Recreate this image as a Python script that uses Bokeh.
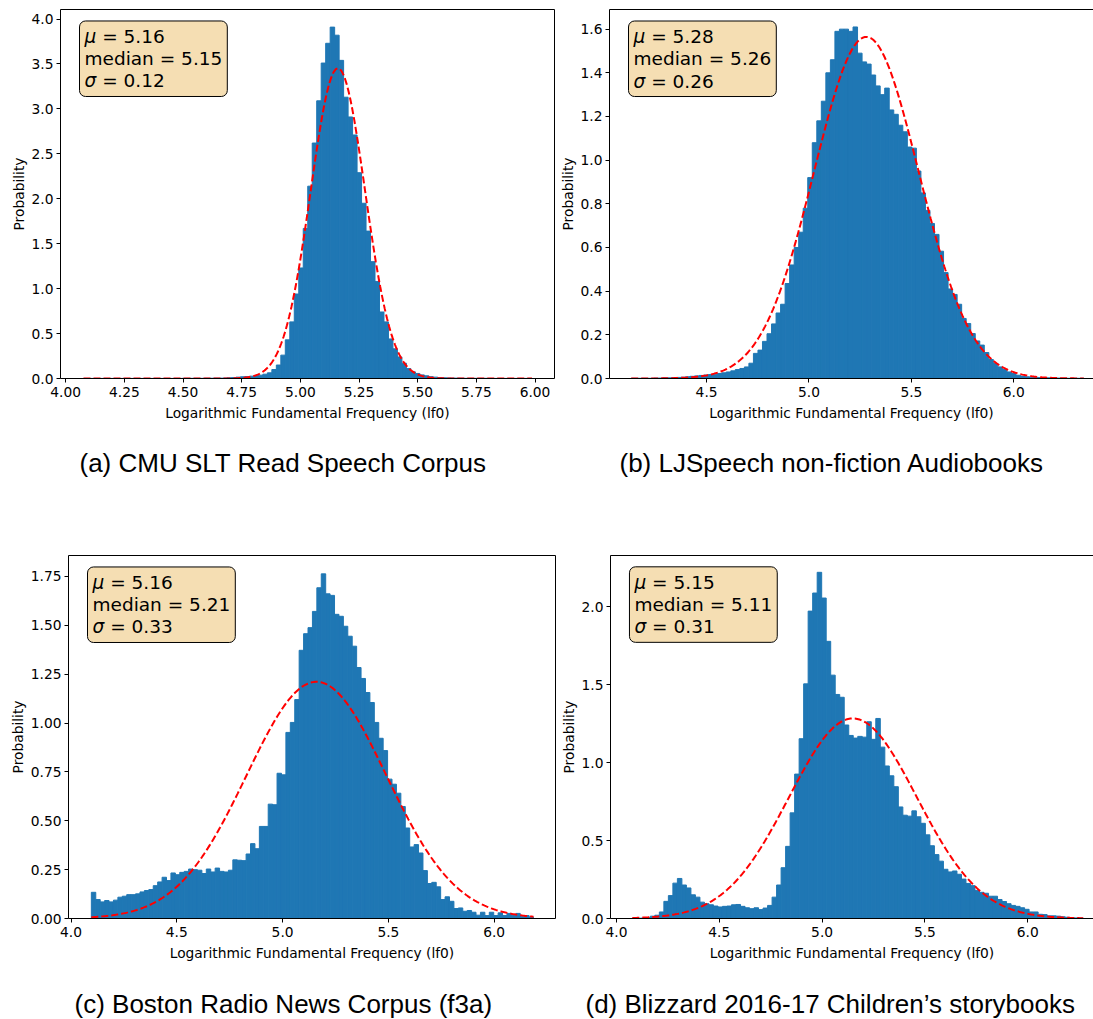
import numpy as np
from bokeh.plotting import figure
from bokeh.models import Range1d, FixedTicker, LinearAxis, Label, NumeralTickFormatter
from bokeh.layouts import column, row
from bokeh.embed import file_html
from bokeh.resources import INLINE

# ---------------- data ----------------
# (a) CMU SLT: 100 bins between a_lo and a_hi
a_lo, a_hi = 4.076, 5.987
a_vals = [0.001, 0.001, 0.001, 0.001, 0.001, 0.001, 0.001, 0.001, 0.001, 0.001,
          0.001, 0.001, 0.001, 0.001, 0.001, 0.001, 0.001, 0.001, 0.001, 0.001,
          0.001, 0.001, 0.002, 0.002, 0.002, 0.002, 0.002, 0.003, 0.003, 0.004,
          0.004, 0.005, 0.008, 0.010, 0.015, 0.019, 0.022, 0.026, 0.030, 0.037,
          0.048, 0.063, 0.100, 0.150, 0.260, 0.430, 0.630, 0.940, 1.230, 1.670,
          2.140, 2.620, 3.090, 3.510, 3.730, 3.910, 3.820, 3.540, 3.130, 2.910,
          2.710, 2.290, 1.950, 1.640, 1.300, 1.080, 0.740, 0.630, 0.440, 0.330,
          0.240, 0.170, 0.110, 0.074, 0.056, 0.040, 0.030, 0.020, 0.015, 0.010,
          0.008, 0.006, 0.005, 0.004, 0.003, 0.002, 0.002, 0.002, 0.002, 0.002,
          0.001, 0.001, 0.001, 0.001, 0.001, 0.001, 0.001, 0.001, 0.001, 0.001]
a_mu, a_sigma = 5.16, 0.1156
a_stats = ["5.16", "5.15", "0.12"]

# (b) LJSpeech
b_lo, b_hi = 4.132, 6.342
b_vals = [0.001, 0.001, 0.001, 0.001, 0.001, 0.002, 0.002, 0.003, 0.003, 0.004,
          0.005, 0.006, 0.008, 0.010, 0.012, 0.014, 0.016, 0.018, 0.020, 0.023,
          0.026, 0.030, 0.035, 0.041, 0.046, 0.053, 0.070, 0.115, 0.130, 0.170,
          0.205, 0.250, 0.300, 0.340, 0.435, 0.520, 0.600, 0.670, 0.780, 0.920,
          1.080, 1.180, 1.270, 1.400, 1.460, 1.590, 1.600, 1.600, 1.590, 1.610,
          1.490, 1.450, 1.440, 1.390, 1.340, 1.300, 1.330, 1.230, 1.210, 1.160,
          1.130, 1.060, 1.055, 0.950, 0.850, 0.770, 0.710, 0.660, 0.583, 0.485,
          0.410, 0.385, 0.340, 0.275, 0.252, 0.206, 0.172, 0.153, 0.119, 0.087,
          0.069, 0.053, 0.041, 0.030, 0.023, 0.015, 0.011, 0.008, 0.006, 0.005,
          0.004, 0.003, 0.003, 0.002, 0.002, 0.001, 0.001, 0.001, 0.001, 0.001]
b_mu, b_sigma = 5.28, 0.255
b_stats = ["5.28", "5.26", "0.26"]

# (c) Boston Radio News
c_lo, c_hi = 4.096, 6.186
c_vals = [0.134, 0.097, 0.085, 0.092, 0.085, 0.094, 0.109, 0.114, 0.122, 0.122,
          0.126, 0.136, 0.143, 0.148, 0.168, 0.187, 0.211, 0.194, 0.233, 0.224,
          0.236, 0.241, 0.253, 0.250, 0.247, 0.230, 0.253, 0.238, 0.258, 0.241,
          0.238, 0.247, 0.300, 0.298, 0.296, 0.330, 0.383, 0.357, 0.471, 0.471,
          0.585, 0.582, 0.743, 0.735, 0.952, 1.003, 1.120, 1.372, 1.457, 1.488,
          1.571, 1.692, 1.763, 1.661, 1.653, 1.556, 1.546, 1.495, 1.444, 1.393,
          1.284, 1.228, 1.156, 1.105, 1.003, 0.922, 0.859, 0.713, 0.687, 0.641,
          0.573, 0.463, 0.366, 0.378, 0.335, 0.245, 0.179, 0.185, 0.162, 0.097,
          0.111, 0.088, 0.051, 0.054, 0.037, 0.041, 0.032, 0.017, 0.032, 0.015,
          0.032, 0.015, 0.029, 0.015, 0.026, 0.015, 0.026, 0.012, 0.015, 0.008]
c_mu, c_sigma = 5.16, 0.3295
c_stats = ["5.16", "5.21", "0.33"]

# (d) Blizzard 2016-17
d_lo, d_hi = 4.077, 6.270
d_vals = [0.001, 0.002, 0.003, 0.005, 0.015, 0.021, 0.042, 0.110, 0.147, 0.227,
          0.257, 0.215, 0.196, 0.152, 0.137, 0.105, 0.095, 0.088, 0.080, 0.074,
          0.078, 0.080, 0.088, 0.090, 0.078, 0.069, 0.063, 0.069, 0.057, 0.067,
          0.084, 0.137, 0.215, 0.326, 0.463, 0.678, 0.927, 1.154, 1.506, 1.973,
          2.089, 2.222, 2.057, 1.779, 1.562, 1.438, 1.420, 1.242, 1.175, 1.158,
          1.169, 1.164, 1.263, 1.150, 1.284, 1.100, 0.979, 0.916, 0.846, 0.716,
          0.663, 0.657, 0.691, 0.653, 0.611, 0.537, 0.467, 0.410, 0.368, 0.316,
          0.299, 0.305, 0.284, 0.253, 0.225, 0.211, 0.179, 0.168, 0.162, 0.143,
          0.143, 0.122, 0.109, 0.095, 0.084, 0.078, 0.069, 0.059, 0.042, 0.042,
          0.027, 0.025, 0.017, 0.017, 0.015, 0.011, 0.008, 0.006, 0.004, 0.003]
d_mu, d_sigma = 5.15, 0.3107
d_stats = ["5.15", "5.11", "0.31"]

captions = ["(a) CMU SLT Read Speech Corpus",
            "(b) LJSpeech non-fiction Audiobooks",
            "(c) Boston Radio News Corpus (f3a)",
            "(d) Blizzard 2016-17 Children\u2019s storybooks"]

a_xticks = [4.00, 4.25, 4.50, 4.75, 5.00, 5.25, 5.50, 5.75, 6.00]
b_xticks = [4.5, 5.0, 5.5, 6.0]
c_xticks = [4.0, 4.5, 5.0, 5.5, 6.0]
d_xticks = [4.0, 4.5, 5.0, 5.5, 6.0]
a_yticks = [0.0, 0.5, 1.0, 1.5, 2.0, 2.5, 3.0, 3.5, 4.0]
b_yticks = [0.0, 0.2, 0.4, 0.6, 0.8, 1.0, 1.2, 1.4, 1.6]
c_yticks = [0.0, 0.25, 0.5, 0.75, 1.0, 1.25, 1.5, 1.75]
d_yticks = [0.0, 0.5, 1.0, 1.5, 2.0]

BLUE = "#1f77b4"
TICK_FONT = "DejaVu Sans"
FS = "13.8px"


def norm_pdf(x, mu, s):
    return np.exp(-0.5 * ((x - mu) / s) ** 2) / (s * np.sqrt(2 * np.pi))


def spine(p, side):
    ax = LinearAxis(ticker=FixedTicker(ticks=[]), major_tick_out=0, major_tick_in=0,
                    minor_tick_out=0, minor_tick_in=0, major_label_standoff=0,
                    axis_line_color="black", axis_line_width=1)
    p.add_layout(ax, side)


def panel(lo, hi, vals, mu, sigma, stats, xticks, xfmt, yticks, yfmt,
          W, H, bl, br, bt, bb, xr, yr, right_spine):
    n = len(vals)
    edges = np.linspace(lo, hi, n + 1)
    p = figure(width=W, height=H, x_range=Range1d(*xr), y_range=Range1d(*yr),
               output_backend="svg", toolbar_location=None, title_location=None,
               min_border_left=bl, min_border_right=br, min_border_top=bt,
               min_border_bottom=bb, background_fill_color="white",
               border_fill_color="white")
    p.outline_line_color = None
    p.grid.visible = False

    p.quad(left=edges[:-1], right=edges[1:], bottom=0, top=vals,
           fill_color=BLUE, line_color=BLUE, line_width=1)
    xs = np.linspace(lo, hi, 400)
    p.line(xs, norm_pdf(xs, mu, sigma), line_color="red", line_width=2,
           line_dash="7 3")

    xa = p.xaxis[0]
    xa.ticker = FixedTicker(ticks=xticks)
    xa.formatter = NumeralTickFormatter(format=xfmt)
    ya = p.yaxis[0]
    ya.ticker = FixedTicker(ticks=yticks)
    ya.formatter = NumeralTickFormatter(format=yfmt)
    for ax in (xa, ya):
        ax.axis_line_color = "black"
        ax.axis_line_width = 1
        ax.major_tick_line_color = "black"
        ax.major_tick_in = 0
        ax.major_tick_out = 4
        ax.minor_tick_line_color = None
        ax.major_label_text_font = TICK_FONT
        ax.major_label_text_font_size = FS
        ax.major_label_text_color = "black"
        ax.axis_label_text_font = TICK_FONT
        ax.axis_label_text_font_size = FS
        ax.axis_label_text_font_style = "normal"
        ax.axis_label_text_color = "black"
        ax.major_label_standoff = 3
    xa.major_label_standoff = 4
    xa.axis_label = "Logarithmic Fundamental Frequency (lf0)"
    xa.axis_label_standoff = 5
    ya.axis_label = "Probability"
    ya.axis_label_standoff = 2

    spine(p, "above")
    if right_spine:
        spine(p, "right")

    fw = W - bl - br
    fh = H - bt - bb
    dx = (xr[1] - xr[0]) / fw
    dy = (yr[1] - yr[0]) / fh

    # stats box near the top-left corner of the axes (greek letters drawn italic on top)
    bx = xr[0] + 19 * dx
    by = yr[1] - 11.5 * dy
    common = dict(x=bx, y=by, x_units="data", y_units="data", text_font="DejaVu Sans",
                  text_font_size="18.5px", text_color="black", text_align="left",
                  text_baseline="top", text_line_height=1.06, padding=5)
    body = "\u2007 = %s\nmedian = %s\n\u2007 = %s" % tuple(stats)
    p.add_layout(Label(text=body, background_fill_color="#F5DEB3",
                       background_fill_alpha=1.0, border_line_color="black",
                       border_line_width=1, border_radius=6, **common))
    p.add_layout(Label(text="\u03bc\n \n\u03c3", text_font_style="italic", **common))
    return p


def caption_strip(text, W, H, left_px, center_from_top):
    s = figure(width=W, height=H, x_range=Range1d(0, W), y_range=Range1d(0, H),
               output_backend="svg", toolbar_location=None, title_location=None,
               x_axis_location=None, y_axis_location=None, min_border=0,
               background_fill_color="white", border_fill_color="white")
    s.outline_line_color = None
    s.grid.visible = False
    s.add_layout(Label(x=left_px, y=H - center_from_top, x_units="data", y_units="data",
                       text=text, text_font="Liberation Sans", text_font_size="26px",
                       text_color="black", text_align="left", text_baseline="middle"))
    return s


pa = panel(a_lo, a_hi, a_vals, a_mu, a_sigma, a_stats, a_xticks, "0.00",
           a_yticks, "0.0", 555, 430, 60, 1, 8, 52, (3.978, 6.083), (0.0, 4.106), True)
pb = panel(b_lo, b_hi, b_vals, b_mu, b_sigma, b_stats, b_xticks, "0.0",
           b_yticks, "0.0", 538, 430, 54, 0, 9, 52, (4.026, 6.389), (0.0, 1.69), False)
pc = panel(c_lo, c_hi, c_vals, c_mu, c_sigma, c_stats, c_xticks, "0.0",
           c_yticks, "0.00", 557, 470, 68, 2, 55, 51, (3.988, 6.290), (0.0, 1.857), True)
pd_ = panel(d_lo, d_hi, d_vals, d_mu, d_sigma, d_stats, d_xticks, "0.0",
            d_yticks, "0.0", 536, 470, 52, 0, 49, 52, (3.971, 6.320), (0.0, 2.33), False)

ca = caption_strip(captions[0], 555, 70, 79, 32)
cb = caption_strip(captions[1], 538, 70, 64, 32)
cc = caption_strip(captions[2], 557, 49, 74, 33)
cd = caption_strip(captions[3], 536, 49, 28, 33)

layout = column(row(pa, pb), row(ca, cb), row(pc, pd_), row(cc, cd))
open("out.html", "w").write(file_html(layout, INLINE))
